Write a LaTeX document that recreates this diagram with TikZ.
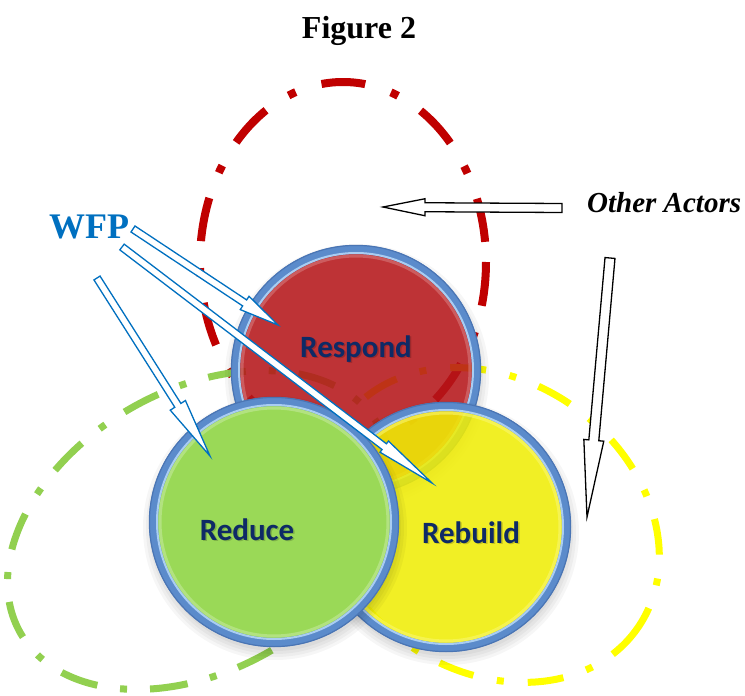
\documentclass[tikz,border=0pt]{standalone}
\usepackage{fontspec}
\setmainfont{Liberation Serif}
\newfontfamily\labelfont{Carlito}
\usetikzlibrary{calc}
\definecolor{ringblue}{HTML}{5B8BCB}
\definecolor{ringdark}{HTML}{4A75B4}
\definecolor{ringlight}{HTML}{A9CDF2}
\definecolor{respondfill}{HTML}{B9161A}
\definecolor{reducefill}{HTML}{9AD957}
\definecolor{rebuildfill}{HTML}{F6F306}
\definecolor{navy}{HTML}{0E2A66}
\definecolor{wfpblue}{HTML}{0070C0}
\definecolor{dashred}{HTML}{C00000}
\definecolor{dashgreen}{HTML}{92D050}
\definecolor{dashyellow}{HTML}{FFFF00}
\tikzset{
  redloop/.style={draw=dashred, line width=8pt, dash pattern=on 44pt off 27pt on 8pt off 27pt},
  greenloop/.style={draw=dashgreen, line width=7pt, dash pattern=on 38pt off 23pt on 7pt off 23pt},
  yellowloop/.style={draw=dashyellow, line width=7pt, dash pattern=on 36pt off 24pt on 7pt off 24pt},
  wfparrow/.style={draw=wfpblue, line width=1.3pt, fill=white, line join=miter},
  actorarrow/.style={draw=black, line width=1.3pt, fill=white, line join=miter},
  balllabel/.style={font=\labelfont\bfseries\fontsize{31}{36}\selectfont, text=navy, inner sep=0pt, anchor=base},
  ballshade/.style={font=\labelfont\bfseries\fontsize{31}{36}\selectfont, text=black, opacity=0.18, inner sep=0pt, anchor=base},
  hotspot/.style={circle, minimum size=250pt, inner sep=0pt}
}
% block arrow: style, from, to, shaft half width, head half width, head length
\newcommand\blockarrow[6]{%
  \path ($(#3)!#6!(#2)$) coordinate (#2h);
  \draw[#1] ($(#2)!#4!90:(#3)$) -- ($(#2h)!#4!90:(#3)$) -- ($(#2h)!#5!90:(#3)$)
    -- (#3) -- ($(#2h)!#5!-90:(#3)$) -- ($(#2h)!#4!-90:(#3)$) -- ($(#2)!#4!-90:(#3)$) -- cycle;
}
% ball: cx, cy, fill colour, fill opacity, name
\newcommand\bubble[5]{%
  \foreach \k in {-2,1,4,7} \fill[black, opacity=0.035] (#1+1,#2+6) circle (125+\k);
  \node[hotspot] (#5) at (#1,#2) {};
  \draw[line width=9pt, draw=ringblue, fill=#3, fill opacity=#4] (#1,#2) circle (120.5);
  \draw[ringdark, line width=1.2pt] (#1,#2) circle (124.6);
  \draw[ringlight, line width=2pt] (#1,#2) circle (117);
  \draw[#3!55!white, line width=3pt, opacity=0.55] (#1,#2) circle (114);
}
\begin{document}
\begin{tikzpicture}[x=1pt,y=-1pt]
\useasboundingbox (0,0) rectangle (745,696);
\fill[white] (0,0) rectangle (745,696);

% title
\node[font=\bfseries\fontsize{32}{38}\selectfont, anchor=base, inner sep=0pt] (title) at (359,38) {Figure 2};

% dashed loops
\draw[redloop] (343,262) ellipse [x radius=143, y radius=180];
\draw[greenloop, shift={(200,530)}, rotate=30] (0,0) ellipse [x radius=207, y radius=140];
\draw[yellowloop, shift={(490,525)}, rotate=-35] (0,0) ellipse [x radius=180, y radius=145];

% balls
\bubble{356}{370}{respondfill}{0.85}{respond}
\bubble{446}{527}{rebuildfill}{0.85}{rebuild}
\bubble{274}{522}{reducefill}{1}{reduce}

% ball labels
\node[ballshade] (respondsh) at (357.5,358.5) {Respond};
\node[balllabel] (respondtx) at (356,357) {Respond};
\node[ballshade] (reducesh) at (248.5,541.5) {Reduce};
\node[balllabel] (reducetx) at (247,540) {Reduce};
\node[ballshade] (rebuildsh) at (472.5,544.5) {Rebuild};
\node[balllabel] (rebuildtx) at (471,543) {Rebuild};

% WFP
\node[font=\bfseries\fontsize{36}{40}\selectfont, text=wfpblue, anchor=base west, inner sep=0pt] (wfp) at (49,238) {WFP};
\coordinate (w1) at (133,229);
\coordinate (w1tip) at (278,325);
\coordinate (w2) at (122,247);
\coordinate (w2tip) at (432,483);
\coordinate (w3) at (97,278);
\coordinate (w3tip) at (210,456);
\blockarrow{wfparrow}{w1}{w1tip}{3.6pt}{8pt}{40pt}
\blockarrow{wfparrow}{w2}{w2tip}{3.6pt}{7pt}{60pt}
\blockarrow{wfparrow}{w3}{w3tip}{3.6pt}{9pt}{60pt}

% Other actors
\node[font=\bfseries\itshape\fontsize{29}{34}\selectfont, anchor=base west, inner sep=0pt] (others) at (587,212) {Other Actors};
\coordinate (o1) at (562,208);
\coordinate (o1tip) at (383,207);
\coordinate (o2) at (610,258);
\coordinate (o2tip) at (587,517);
\blockarrow{actorarrow}{o1}{o1tip}{4.5pt}{8.5pt}{42pt}
\blockarrow{actorarrow}{o2}{o2tip}{5pt}{10pt}{77pt}
\end{tikzpicture}
\end{document}
